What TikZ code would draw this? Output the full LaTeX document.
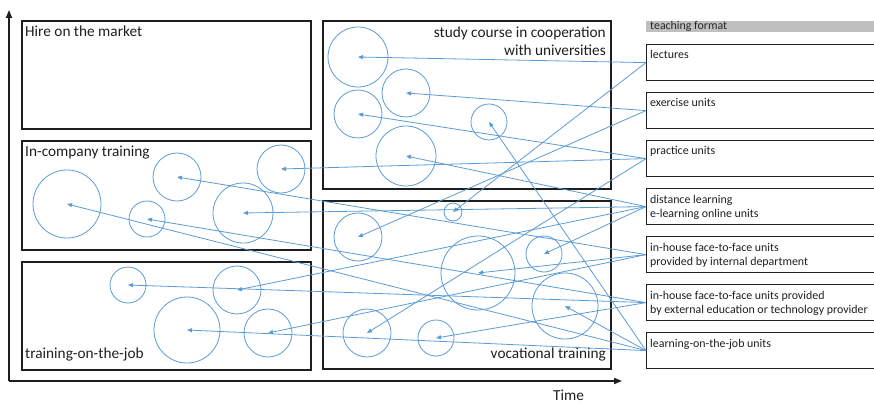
\documentclass[tikz,border=0pt]{standalone}
\usepackage{fontspec}
\setmainfont{Carlito}
\usetikzlibrary{arrows.meta}
\definecolor{linkblue}{HTML}{5B9BD5}
\definecolor{inkdark}{HTML}{1E1E1E}
\definecolor{headgray}{HTML}{BFBFBF}
\begin{document}
\begin{tikzpicture}[x=1pt,y=-1pt,
  panel/.style={draw=inkdark, line width=1.6pt, anchor=north west, inner sep=0pt},
  format/.style={draw=inkdark, line width=1.2pt, anchor=north west, inner sep=0pt,
                 minimum width=232pt, minimum height=36pt},
  blob/.style={circle, draw=linkblue, line width=0.8pt, inner sep=0pt},
  link/.style={draw=linkblue, line width=0.8pt, -{Triangle[length=5pt,width=4pt]}},
  bigtext/.style={font=\fontsize{15.3}{18.5}\selectfont, text=inkdark, inner sep=0pt},
  smalltext/.style={font=\fontsize{11.9}{14}\selectfont, text=inkdark, inner sep=0pt,
                    align=left, anchor=base west},
  axis/.style={draw=inkdark, line width=1.6pt, -{Triangle[length=8pt,width=6pt]}}
]
\useasboundingbox (0,0) rectangle (874,403);

% axes
\coordinate (origin) at (9,381);
\coordinate (ytop) at (9,10);
\coordinate (xend) at (622,381);
\draw[axis] (origin) -- (ytop);
\draw[axis] (origin) -- (xend);
\node[bigtext, anchor=base west] (time) at (553,400) {Time};

% qualification paths
\node[panel, minimum width=289pt, minimum height=108pt] (hire) at (21,20) {};
\node[panel, minimum width=289pt, minimum height=109pt] (incomp) at (21,140) {};
\node[panel, minimum width=289pt, minimum height=108pt] (otj) at (21,261) {};
\node[panel, minimum width=288pt, minimum height=168pt] (study) at (322,20) {};
\node[panel, minimum width=288pt, minimum height=168pt] (voc) at (322,200) {};

\node[bigtext, anchor=base west] (hireT) at (25,37) {Hire on the market};
\node[bigtext, anchor=base west] (incompT) at (25,157) {In-company training};
\node[bigtext, anchor=base west] (otjT) at (25,358) {training-on-the-job};
\node[bigtext, anchor=base east] (studyT1) at (606,37.5) {study course in cooperation};
\node[bigtext, anchor=base east] (studyT2) at (606,56) {with universities};
\node[bigtext, anchor=base east] (vocT) at (606,358) {vocational training};

% teaching formats
\fill[headgray] (646,21) rectangle (878,32);
\node[smalltext, text=black!85] (headT) at (650,29.5) {teaching format};
\node[format] (lect) at (646,44) {};
\node[format] (exer) at (646,92) {};
\node[format] (prac) at (646,140) {};
\node[format] (dist) at (646,188) {};
\node[format] (intl) at (646,236) {};
\node[format] (extl) at (646,284) {};
\node[format] (lotj) at (646,332) {};
% multi-line labels sit on the baseline of their last line
\node[smalltext] (lectT) at (650,59) {lectures};
\node[smalltext] (exerT) at (650,107) {exercise units};
\node[smalltext] (pracT) at (650,155) {practice units};
\node[smalltext] (distT) at (650,217.5) {distance learning\\e-learning online units};
\node[smalltext] (intlT) at (650,265.5) {in-house face-to-face units\\provided by internal department};
\node[smalltext] (extlT) at (650,313.5) {in-house face-to-face units provided\\by external education or technology provider};
\node[smalltext] (lotjT) at (650,347.5) {learning-on-the-job units};

% learning units
\node[blob, minimum size=48pt] (A) at (177,177) {};
\node[blob, minimum size=48pt] (B) at (281,169) {};
\node[blob, minimum size=68pt] (C) at (67,204) {};
\node[blob, minimum size=36pt] (D) at (147,219) {};
\node[blob, minimum size=60pt] (E) at (243,213) {};
\node[blob, minimum size=36pt] (F) at (128,285) {};
\node[blob, minimum size=48pt] (G) at (237,290) {};
\node[blob, minimum size=66pt] (H) at (187,330) {};
\node[blob, minimum size=48pt] (I) at (268,333) {};
\node[blob, minimum size=60pt] (J) at (358,57) {};
\node[blob, minimum size=48pt] (K) at (406,93) {};
\node[blob, minimum size=48pt] (L) at (358,114) {};
\node[blob, minimum size=36pt] (M) at (489,122) {};
\node[blob, minimum size=60pt] (N) at (406,156) {};
\node[blob, minimum size=18pt] (O) at (453,212) {};
\node[blob, minimum size=48pt] (P) at (358,237) {};
\node[blob, minimum size=74pt] (Q) at (478,273) {};
\node[blob, minimum size=36pt] (R) at (544,254) {};
\node[blob, minimum size=66pt] (S) at (565,306) {};
\node[blob, minimum size=48pt] (T) at (367,333) {};
\node[blob, minimum size=36pt] (U) at (436,338) {};

% format -> unit assignments
\draw[link] (lect.west) -- (J.center);
\draw[link] (lect.west) -- (O.center);
\draw[link] (exer.west) -- (K.center);
\draw[link] (exer.west) -- (P.center);
\draw[link] (prac.west) -- (B.center);
\draw[link] (prac.west) -- (L.center);
\draw[link] (prac.west) -- (T.center);
\draw[link] (dist.west) -- (E.center);
\draw[link] (dist.west) -- (G.center);
\draw[link] (dist.west) -- (N.center);
\draw[link] (dist.west) -- (R.center);
\draw[link] (intl.west) -- (A.center);
\draw[link] (intl.west) -- (I.center);
\draw[link] (intl.west) -- (Q.center);
\draw[link] (extl.west) -- (D.center);
\draw[link] (extl.west) -- (F.center);
\draw[link] (extl.west) -- (U.center);
\draw[link] (lotj.west) -- (C.center);
\draw[link] (lotj.west) -- (H.center);
\draw[link] (lotj.west) -- (M.center);
\draw[link] (lotj.west) -- (S.center);
\end{tikzpicture}
\end{document}
